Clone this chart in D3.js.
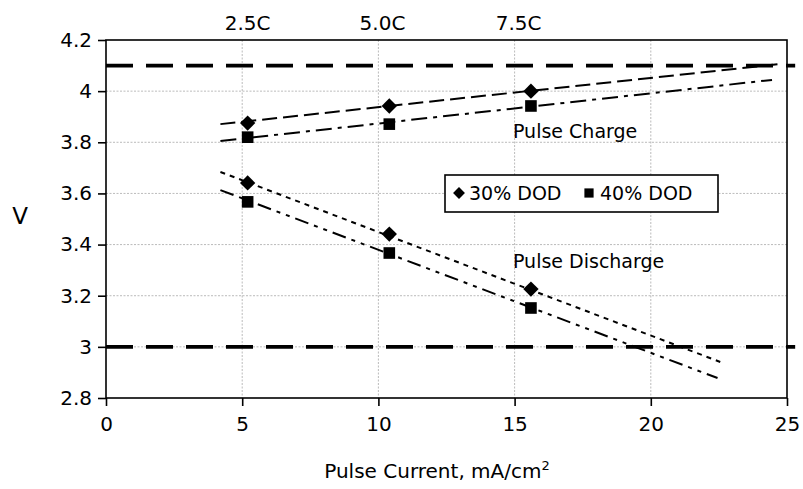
<!DOCTYPE html>
<html>
<head>
<meta charset="utf-8">
<script src="https://cdn.jsdelivr.net/npm/d3@7"></script>
<style>
  body { margin: 0; background: #fff; }
  svg text { font-family: "DejaVu Sans", sans-serif; fill: #000; }
</style>
</head>
<body>
<svg id="chart"></svg>
<script>
// pulse current (mA/cm2) at 2.5C, 5.0C, 7.5C
const current = [5.2, 10.4, 15.6];
const cRateLabels = ['2.5C', '5.0C', '7.5C'];
const cRatePos = [5.2, 10.15, 15.15];

const charge30 = [3.875, 3.942, 4.0];
const charge40 = [3.82, 3.871, 3.942];
const discharge30 = [3.641, 3.441, 3.226];
const discharge40 = [3.567, 3.367, 3.152];

// trend line end points
const chargeTrend30 = [[4.2, 3.871], [24.65, 4.105]];
const chargeTrend40 = [[4.2, 3.805], [24.45, 4.044]];
const dischargeTrend30 = [[4.2, 3.684], [22.55, 2.941]];
const dischargeTrend40 = [[4.2, 3.613], [22.45, 2.878]];

// voltage limits
const limits = [4.1, 3.0];

const xTicks = [0, 5, 10, 15, 20, 25];
const yTicks = [2.8, 3.0, 3.2, 3.4, 3.6, 3.8, 4.0, 4.2];

const W = 803, H = 489;
const margin = { top: 40, right: 16, bottom: 91, left: 106 },
  width = W - margin.left - margin.right,
  height = H - margin.top - margin.bottom;

const svg = d3.select('#chart')
  .attr('width', W)
  .attr('height', H);

const g = svg.append('g')
  .attr('transform', `translate(${margin.left},${margin.top})`);

const x = d3.scaleLinear().domain([0, 25]).range([0, width]);
const y = d3.scaleLinear().domain([2.8, 4.2]).range([height, 0]);

// grid
g.append('g')
  .selectAll('line')
  .data(yTicks.slice(1, -1))
  .join('line')
  .attr('x1', 0).attr('x2', width)
  .attr('y1', d => y(d)).attr('y2', d => y(d))
  .attr('stroke', '#aaa').attr('stroke-width', 0.8)
  .attr('stroke-dasharray', '2,1.5');

g.append('g')
  .selectAll('line')
  .data(xTicks.slice(1, -1))
  .join('line')
  .attr('x1', d => x(d)).attr('x2', d => x(d))
  .attr('y1', 0).attr('y2', height)
  .attr('stroke', '#aaa').attr('stroke-width', 0.8)
  .attr('stroke-dasharray', '2,1.5');

// frame
g.append('rect')
  .attr('width', width).attr('height', height)
  .attr('fill', 'none').attr('stroke', '#000').attr('stroke-width', 1.6);

// axes
const xAxis = g.append('g')
  .attr('transform', `translate(0,${height})`)
  .call(d3.axisBottom(x).tickValues(xTicks).tickSize(8).tickPadding(11).tickFormat(d3.format('d')));
const yAxis = g.append('g')
  .call(d3.axisLeft(y).tickValues(yTicks).tickSize(8).tickPadding(6).tickFormat(d => d3.format('.1f')(d).replace('.0', '')));
[xAxis, yAxis].forEach(a => {
  a.select('.domain').remove();
  a.selectAll('line').attr('stroke', '#000').attr('stroke-width', 1.6);
  a.selectAll('text').style('font-size', '20px').style('font-family', '"DejaVu Sans", sans-serif');
});

// top C-rate labels
g.append('g')
  .selectAll('text')
  .data(cRateLabels)
  .join('text')
  .attr('x', (d, i) => x(cRatePos[i]))
  .attr('y', -10)
  .attr('text-anchor', 'middle')
  .style('font-size', '20px')
  .text(d => d);

// limit lines
g.append('g')
  .selectAll('line')
  .data(limits)
  .join('line')
  .attr('x1', x(0)).attr('x2', x(25.3))
  .attr('y1', d => y(d)).attr('y2', d => y(d))
  .attr('stroke', '#000').attr('stroke-width', 3.8)
  .attr('stroke-dasharray', '27,13');

// trend lines
const line = d3.line().x(d => x(d[0])).y(d => y(d[1]));
const trends = [
  { pts: chargeTrend30, dash: '15,6' },
  { pts: chargeTrend40, dash: '16,6,4,6' },
  { pts: dischargeTrend30, dash: '5,5' },
  { pts: dischargeTrend40, dash: '14,6,4,6,4,6' }
];
g.append('g')
  .selectAll('path')
  .data(trends)
  .join('path')
  .attr('d', d => line(d.pts))
  .attr('fill', 'none')
  .attr('stroke', '#000')
  .attr('stroke-width', 2)
  .attr('stroke-dasharray', d => d.dash);

// markers
const diamond = d3.symbol().type(d3.symbolDiamond2).size(150);
const square = d3.symbol().type(d3.symbolSquare).size(135);

[charge30, discharge30].forEach(vals => {
  g.append('g')
    .selectAll('path')
    .data(vals)
    .join('path')
    .attr('transform', (d, i) => `translate(${x(current[i])},${y(d)})`)
    .attr('d', diamond)
    .attr('fill', '#000');
});
[charge40, discharge40].forEach(vals => {
  g.append('g')
    .selectAll('path')
    .data(vals)
    .join('path')
    .attr('transform', (d, i) => `translate(${x(current[i])},${y(d)})`)
    .attr('d', square)
    .attr('fill', '#000');
});

// annotations
g.append('text')
  .attr('x', 513 - margin.left).attr('y', 138 - margin.top)
  .style('font-size', '19px')
  .text('Pulse Charge');
g.append('text')
  .attr('x', 513 - margin.left).attr('y', 268 - margin.top)
  .style('font-size', '19px')
  .text('Pulse Discharge');

// legend
const legend = svg.append('g').attr('transform', 'translate(445,175)');
legend.append('rect')
  .attr('width', 273).attr('height', 37)
  .attr('fill', '#fff').attr('stroke', '#000').attr('stroke-width', 1.6);
legend.append('path')
  .attr('transform', 'translate(14,18)')
  .attr('d', d3.symbol().type(d3.symbolDiamond2).size(90))
  .attr('fill', '#000');
legend.append('text')
  .attr('x', 24).attr('y', 25)
  .style('font-size', '19px')
  .text('30% DOD');
legend.append('path')
  .attr('transform', 'translate(144,18)')
  .attr('d', d3.symbol().type(d3.symbolSquare).size(85))
  .attr('fill', '#000');
legend.append('text')
  .attr('x', 155).attr('y', 25)
  .style('font-size', '19px')
  .text('40% DOD');

// axis titles
svg.append('text')
  .attr('x', 20).attr('y', 224)
  .attr('text-anchor', 'middle')
  .style('font-size', '23px')
  .text('V');

const xt = svg.append('text')
  .attr('x', 437).attr('y', 478)
  .attr('text-anchor', 'middle')
  .style('font-size', '20px');
xt.append('tspan').text('Pulse Current, mA/cm');
xt.append('tspan').attr('dy', -8).style('font-size', '13px').text('2');
</script>
</body>
</html>
